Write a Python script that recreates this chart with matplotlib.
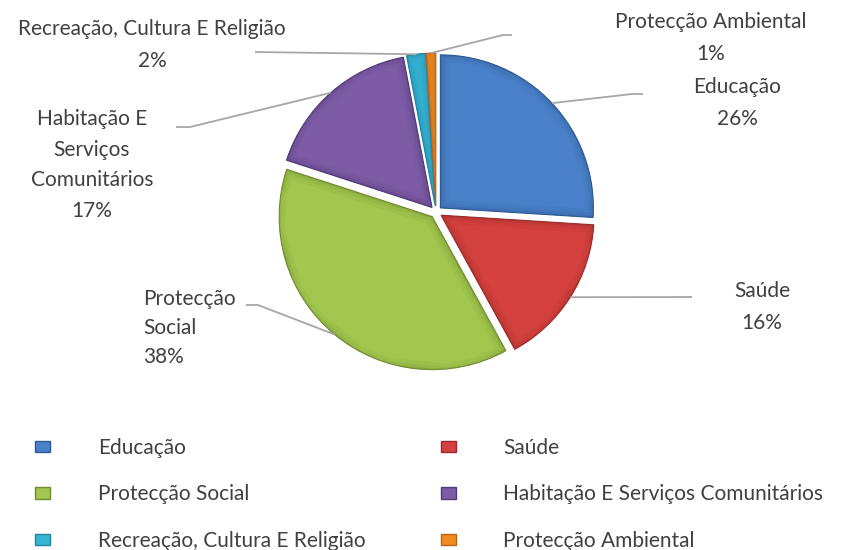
import numpy as np
import matplotlib.pyplot as plt
from matplotlib.patches import Patch

plt.rcParams['font.family'] = ['Lato', 'DejaVu Sans']

# dados do gráfico
categorias = ['Educação', 'Saúde', 'Protecção Social',
              'Habitação E Serviços Comunitários',
              'Recreação, Cultura E Religião', 'Protecção Ambiental']
percentagens = [26, 16, 38, 17, 2, 1]
rotulos = ['Educação\n26%', 'Saúde\n16%', 'Protecção\nSocial\n38%',
           'Habitação E\nServiços\nComunitários\n17%',
           'Recreação, Cultura E Religião\n2%', 'Protecção Ambiental\n1%']
cores = ['#4a80c8', '#d4413e', '#a3c64f', '#7d5ca5', '#37b3d3', '#f08c22']
bordas = ['#2c5a96', '#9c2a28', '#6f8c2f', '#533a78', '#1f86a2', '#b8621a']

W, H = 845, 550
def py(y):
    return H - y

fig = plt.figure(figsize=(W / 100, H / 100), dpi=100)
ax = fig.add_axes([0, 0, 1, 1])

centro = (436, py(212))
raio = 153
wedges, _ = ax.pie(percentagens, colors=cores, startangle=90, counterclock=False,
                   center=centro, radius=raio, explode=[6] * len(percentagens),
                   wedgeprops=dict(linewidth=0.8))
for w, b in zip(wedges, bordas):
    w.set_edgecolor(b)

# efeito de relevo: bordas internas mais escuras
for w, b in zip(wedges, bordas):
    for lw, a in [(12, 0.10), (7, 0.15), (3, 0.25)]:
        p = plt.Polygon(w.get_path().vertices, closed=True, transform=w.get_transform(),
                        fill=False, edgecolor=b, lw=lw, alpha=a, joinstyle='round')
        ax.add_patch(p)
        p.set_clip_path(w)

ax.set_xlim(0, W)
ax.set_ylim(0, H)
ax.set_aspect('equal')
ax.axis('off')

# posições dos rótulos: (cotovelo, fim da linha, posição do texto, alinhamento)
layout = [
    ((632, 94), (643, 94), (737, 103), 'center'),
    ((692, 297), (692, 297), (762, 307), 'center'),
    ((258, 305), (246, 305), (143, 328), 'left'),
    ((190, 127), (176, 127), (92, 165), 'center'),
    ((255, 52), (255, 52), (152, 45), 'center'),
    ((503, 35), (512, 35), (711, 38), 'center'),
]
espacos = [1.7, 1.7, 1.55, 1.65, 1.7, 1.7]

cor_linha = '#a6a6a6'
cor_texto = '#404040'
for w, rot, (cot, fim, pos, al), esp in zip(wedges, rotulos, layout, espacos):
    ang = np.deg2rad((w.theta1 + w.theta2) / 2)
    cx, cy = w.center
    x0 = cx + w.r * np.cos(ang)
    y0 = cy + w.r * np.sin(ang)
    ax.plot([x0, cot[0], fim[0]], [y0, py(cot[1]), py(fim[1])],
            color=cor_linha, lw=1.3, solid_capstyle='butt')
    ax.text(pos[0], py(pos[1]), rot, ha=al, va='center', fontsize=15,
            color=cor_texto, linespacing=esp, multialignment=al)

# legenda preenchida por linhas (como no original)
ordem = [0, 2, 4, 1, 3, 5]
handles = [Patch(facecolor=cores[i], edgecolor=bordas[i], lw=1.0) for i in ordem]
fig.legend(handles, [categorias[i] for i in ordem], ncol=2, loc='upper left',
           bbox_to_anchor=(35 / W, 1 - 438 / H), frameon=False,
           borderpad=0, borderaxespad=0,
           fontsize=15, labelcolor=cor_texto,
           handlelength=0.72, handleheight=0.45, handletextpad=2.3,
           columnspacing=3.6, labelspacing=1.27)

fig.savefig('out.png', dpi=100)
